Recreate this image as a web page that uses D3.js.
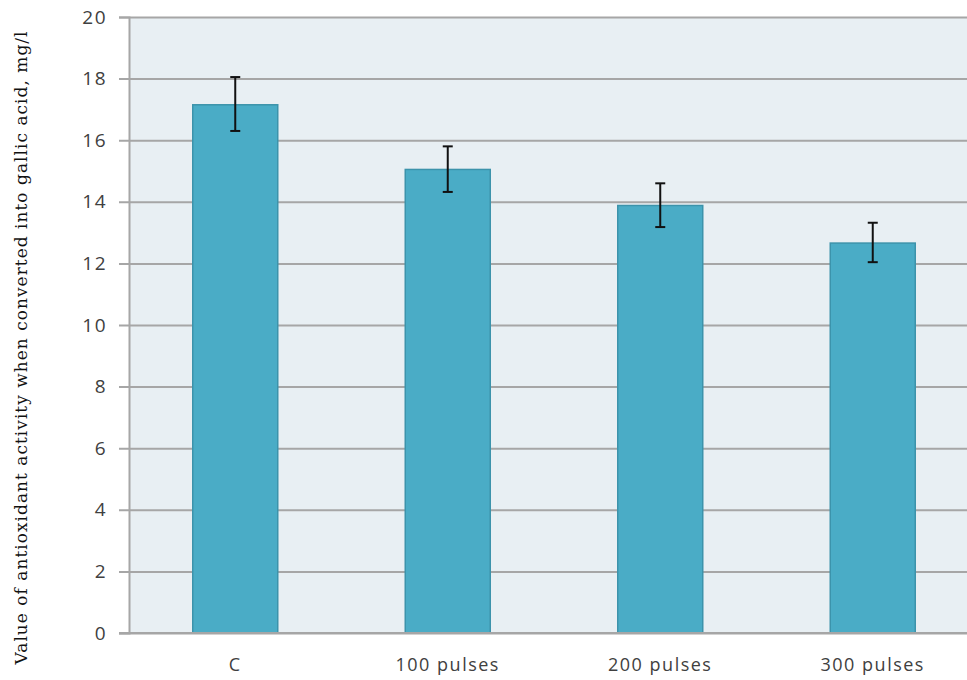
<!DOCTYPE html>
<html>
<head>
<meta charset="utf-8">
<script src="https://cdn.jsdelivr.net/npm/d3@7"></script>
<style>
  html, body { margin: 0; padding: 0; background: #ffffff; }
  svg { display: block; }
</style>
</head>
<body>
<div id="chart"></div>
<script>
"use strict";

/* ── Data ── */
const categories = ["C", "100 pulses", "200 pulses", "300 pulses"];
const means      = [17.15, 15.05, 13.88, 12.66];
const errLow     = [16.30, 14.32, 13.18, 12.04];
const errHigh    = [18.05, 15.80, 14.60, 13.32];
const yTicks     = [0, 2, 4, 6, 8, 10, 12, 14, 16, 18, 20];

/* ── Dimensions ── */
const width  = 967;
const height = 680;
const margin = { top: 17, left: 129, bottom: 47 };
const plotRight = 979;   /* plot runs off the right edge */

const svg = d3.select("#chart")
  .append("svg")
  .attr("width", width)
  .attr("height", height);

const x = d3.scaleBand()
  .domain(categories)
  .range([margin.left, plotRight])
  .paddingInner(0.6)
  .paddingOuter(0.3);

const y = d3.scaleLinear()
  .domain([0, 20])
  .range([height - margin.bottom, margin.top]);

/* ── Plot background ── */
svg.append("rect")
  .attr("x", margin.left)
  .attr("y", y(20))
  .attr("width", plotRight - margin.left)
  .attr("height", y(0) - y(20))
  .attr("fill", "#e8eff3");

/* ── Gridlines + y axis ── */
const yAxis = svg.append("g")
  .attr("transform", `translate(${margin.left},0)`)
  .call(d3.axisLeft(y).tickValues(yTicks).tickSize(10).tickPadding(12))
  .call(g => g.select(".domain").attr("stroke", "#a6a6a6").attr("stroke-width", 2));

yAxis.selectAll(".tick line")
  .attr("stroke", "#a6a6a6")
  .attr("stroke-width", 2)
  .attr("x2", plotRight - margin.left)
  .attr("x1", -10);

yAxis.selectAll(".tick text")
  .attr("fill", "#404040")
  .attr("font-size", "19px")
  .attr("letter-spacing", "1.5px")
  .attr("font-family", "'Open Sans', 'Liberation Sans', sans-serif");

/* ── Bars ── */
svg.selectAll("rect.bar")
  .data(categories)
  .join("rect")
  .attr("class", "bar")
  .attr("x", d => x(d))
  .attr("y", (d, i) => y(means[i]))
  .attr("width", x.bandwidth())
  .attr("height", (d, i) => y(0) - y(means[i]))
  .attr("fill", "#4aacc6")
  .attr("stroke", "#3c93ab")
  .attr("stroke-width", 1.5);

/* ── Error bars ── */
const err = svg.selectAll("g.err")
  .data(categories)
  .join("g")
  .attr("class", "err")
  .attr("transform", d => `translate(${x(d) + x.bandwidth() / 2},0)`)
  .attr("stroke", "#111111")
  .attr("stroke-width", 2);

err.append("line")
  .attr("y1", (d, i) => y(errLow[i]))
  .attr("y2", (d, i) => y(errHigh[i]));
err.append("line")
  .attr("x1", -5).attr("x2", 5)
  .attr("y1", (d, i) => y(errLow[i]))
  .attr("y2", (d, i) => y(errLow[i]));
err.append("line")
  .attr("x1", -5).attr("x2", 5)
  .attr("y1", (d, i) => y(errHigh[i]))
  .attr("y2", (d, i) => y(errHigh[i]));

/* ── X axis line + labels ── */
svg.append("line")
  .attr("x1", margin.left - 10).attr("x2", plotRight)
  .attr("y1", y(0)).attr("y2", y(0))
  .attr("stroke", "#a6a6a6")
  .attr("stroke-width", 2);

svg.selectAll("text.cat")
  .data(categories)
  .join("text")
  .attr("class", "cat")
  .attr("x", d => x(d) + x.bandwidth() / 2)
  .attr("y", 671)
  .attr("text-anchor", "middle")
  .attr("fill", "#404040")
  .attr("font-size", "18px")
  .attr("letter-spacing", "1.5px")
  .attr("font-family", "'Open Sans', 'Liberation Sans', sans-serif")
  .text(d => d);

/* ── Y title ── */
svg.append("text")
  .attr("transform", `translate(27,348) rotate(-90)`)
  .attr("text-anchor", "middle")
  .attr("fill", "#111111")
  .attr("font-size", "17px")
  .attr("font-family", "'DejaVu Serif', 'Liberation Serif', serif")
  .attr("textLength", 633)
  .attr("lengthAdjust", "spacing")
  .text("Value of antioxidant activity when converted into gallic acid, mg/l");
</script>
</body>
</html>
